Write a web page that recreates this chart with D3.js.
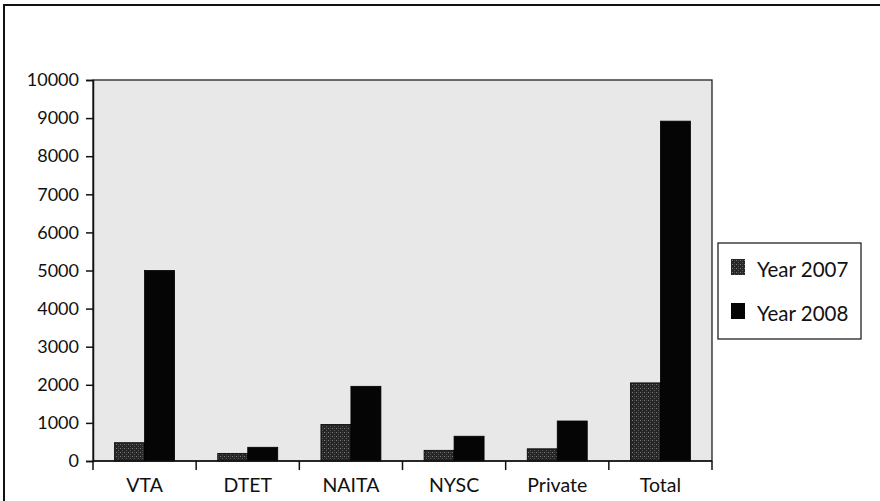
<!DOCTYPE html>
<html><head><meta charset="utf-8">
<script src="https://cdn.jsdelivr.net/npm/d3@7"></script>
<style>
html,body{margin:0;padding:0;background:#fff;}
svg{display:block;font-family:Lato,"Open Sans",sans-serif;}
</style></head>
<body><svg id="c" width="880" height="501"></svg>
<script>
const categories = ["VTA","DTET","NAITA","NYSC","Private","Total"];
const series = ["Year 2007","Year 2008"];
const year2007 = [480, 200, 960, 280, 320, 2050];
const year2008 = [5000, 360, 1960, 650, 1050, 8920];
const yTicks = [0,1000,2000,3000,4000,5000,6000,7000,8000,9000,10000];

const svg = d3.select("#c");
const W = 880, H = 501;
const m = {left: 93, right: 712, top: 80, bottom: 461};

const defs = svg.append("defs");
const pat = defs.append("pattern").attr("id","hatch").attr("patternUnits","userSpaceOnUse")
  .attr("width",4).attr("height",4);
pat.append("rect").attr("width",4).attr("height",4).attr("fill","#262626");
pat.append("rect").attr("x",0).attr("y",0).attr("width",1).attr("height",1).attr("fill","#7a7a7a");
pat.append("rect").attr("x",2).attr("y",2).attr("width",1).attr("height",1).attr("fill","#5a5a5a");
pat.append("rect").attr("x",2).attr("y",0).attr("width",1).attr("height",1).attr("fill","#444");

// outer frame lines
svg.append("line").attr("x1",4).attr("x2",4).attr("y1",4).attr("y2",H).attr("stroke","#111").attr("stroke-width",2);
svg.append("line").attr("x1",4).attr("x2",W).attr("y1",5).attr("y2",5).attr("stroke","#111").attr("stroke-width",2);

const x = d3.scaleBand().domain(categories).range([m.left, m.right]).paddingInner(0).paddingOuter(0);
const xs = d3.scaleBand().domain(series).range([0, x.bandwidth()]).paddingInner(0).paddingOuter(0.72);
const y = d3.scaleLinear().domain([0,10000]).range([m.bottom, m.top]);

// plot background
svg.append("rect").attr("x",m.left).attr("y",m.top).attr("width",m.right-m.left).attr("height",m.bottom-m.top)
  .attr("fill","#e8e8e8").attr("stroke","#222").attr("stroke-width",1.3);

const data = categories.map((c,i)=>({cat:c, vals:[year2007[i], year2008[i]]}));
const g = svg.append("g");
data.forEach(d=>{
  d.vals.forEach((v,j)=>{
    g.append("rect")
      .attr("x", x(d.cat)+xs(series[j]))
      .attr("y", y(v))
      .attr("width", xs.bandwidth())
      .attr("height", y(0)-y(v))
      .attr("fill", j===0 ? "url(#hatch)" : "#050505")
      .attr("stroke","#000").attr("stroke-width",0.8);
  });
});

// y axis
const ya = svg.append("g").attr("transform",`translate(${m.left},0)`)
  .call(d3.axisLeft(y).tickValues(yTicks).tickSize(7).tickPadding(7).tickFormat(d3.format("d")));
ya.select(".domain").attr("stroke","#111").attr("stroke-width",1.5);
ya.selectAll(".tick line").attr("stroke","#111").attr("stroke-width",1.5);
ya.selectAll("text").attr("font-size",18).attr("fill","#111").attr("font-family","Lato");

// x axis
const xa = svg.append("g").attr("transform",`translate(0,${m.bottom})`);
xa.append("line").attr("x1",m.left).attr("x2",m.right).attr("y1",0).attr("y2",0).attr("stroke","#111").attr("stroke-width",1.5);
const bounds = categories.map(c=>x(c)).concat([x(categories[categories.length-1])+x.bandwidth()]);
xa.selectAll("line.tk").data(bounds).enter().append("line").attr("class","tk")
  .attr("x1",d=>d).attr("x2",d=>d).attr("y1",0).attr("y2",9).attr("stroke","#111").attr("stroke-width",1.5);
xa.selectAll("text").data(categories).enter().append("text")
  .attr("x",d=>x(d)+x.bandwidth()/2).attr("y",31).attr("text-anchor","middle")
  .attr("font-size",19.5).attr("fill","#111").text(d=>d);

// legend
const lg = svg.append("g");
lg.append("rect").attr("x",718).attr("y",243).attr("width",143).attr("height",96)
  .attr("fill","#fff").attr("stroke","#222").attr("stroke-width",1.3);
const ly = [259, 303];
series.forEach((s,i)=>{
  lg.append("rect").attr("x",731).attr("y",ly[i]).attr("width",14).attr("height",16)
    .attr("fill", i===0 ? "url(#hatch)" : "#050505");
  lg.append("text").attr("x",757).attr("y",ly[i]+18).attr("font-size",20.5).attr("fill","#111").text(s);
});
</script></body></html>
